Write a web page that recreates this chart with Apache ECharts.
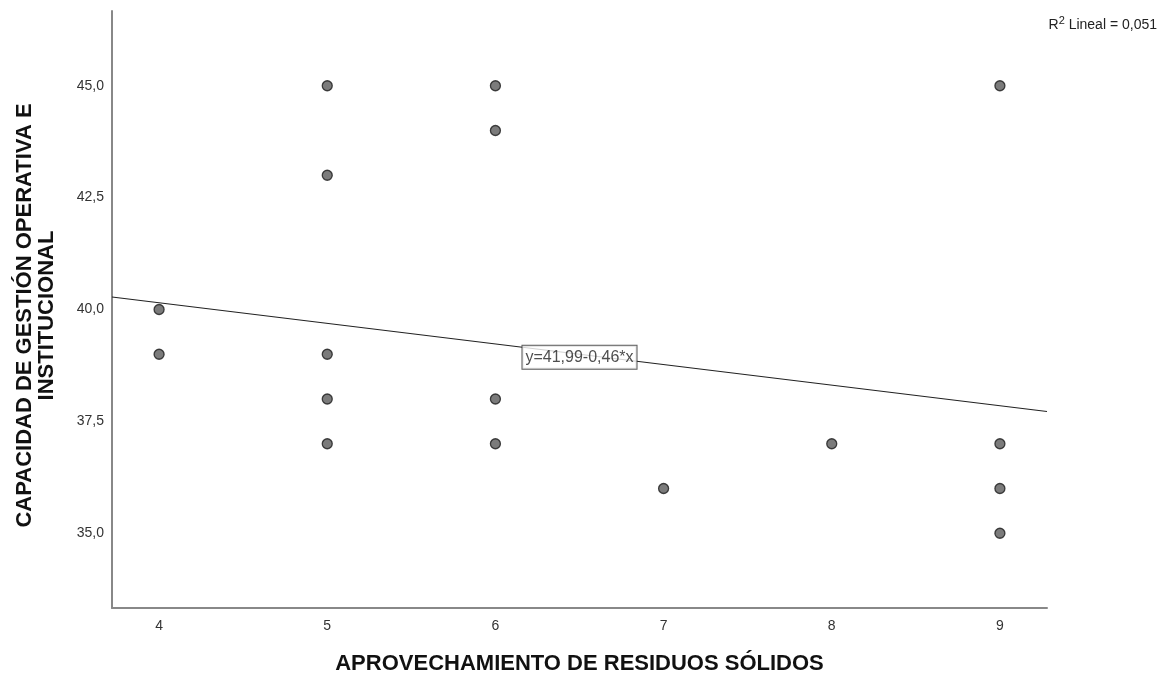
<!DOCTYPE html>
<html>
<head>
<meta charset="utf-8">
<script src="https://cdn.jsdelivr.net/npm/echarts@6/dist/echarts.min.js"></script>
<style>html,body{margin:0;padding:0;background:#fff}#c{width:1169px;height:677px}</style>
</head>
<body>
<div id="c"></div>
<script>
// Data
const xValues = [4, 4, 5, 5, 5, 5, 5, 6, 6, 6, 6, 7, 8, 9, 9, 9, 9];
const yValues = [40, 39, 45, 43, 39, 38, 37, 45, 44, 38, 37, 36, 37, 45, 37, 36, 35];
const xTicks = [4, 5, 6, 7, 8, 9];
const yTicks = [35.0, 37.5, 40.0, 42.5, 45.0];
const fitIntercept = 41.99;
const fitSlope = -0.46;
const fitLabel = 'y=41,99-0,46*x';
const rSquaredText = '0,051';
const xTitle = 'APROVECHAMIENTO DE RESIDUOS SÓLIDOS';
const yTitle = 'CAPACIDAD DE GESTIÓN OPERATIVA E\nINSTITUCIONAL';

const xMin = 3.72, xMax = 9.28, yMin = 33.33, yMax = 46.67;
const fitLine = [[xMin, fitIntercept + fitSlope * xMin], [xMax, fitIntercept + fitSlope * xMax]];
const labelX = 6.5;
const labelPoint = [[labelX, fitIntercept + fitSlope * labelX]];
const points = xValues.map((x, i) => [x, yValues[i]]);

const chart = echarts.init(document.getElementById('c'), null, {renderer: 'canvas'});
const font = '"Liberation Sans", Arial, sans-serif';
chart.setOption({
  animation: false,
  backgroundColor: '#fff',
  grid: {left: 112, right: 122, top: 11, bottom: 69, containLabel: false, outerBoundsMode: 'none'},
  xAxis: {
    type: 'value', min: xMin, max: xMax,
    axisLine: {show: true, onZero: false, lineStyle: {color: '#888', width: 2}},
    axisTick: {show: false},
    splitLine: {show: false},
    axisLabel: {
      show: true, color: '#333', fontFamily: font, fontSize: 14, margin: 11,
      customValues: xTicks, formatter: v => String(v)
    },
    name: xTitle, nameLocation: 'middle', nameGap: 45,
    nameTextStyle: {fontFamily: font, fontSize: 22, fontWeight: 'bold', color: '#111'}
  },
  yAxis: {
    type: 'value', min: yMin, max: yMax,
    axisLine: {show: true, onZero: false, lineStyle: {color: '#888', width: 2}},
    axisTick: {show: false},
    splitLine: {show: false},
    axisLabel: {
      show: true, color: '#333', fontFamily: font, fontSize: 14, margin: 8,
      customValues: yTicks, formatter: v => v.toFixed(1).replace('.', ','),
      padding: [4, 0, 0, 0]
    },
    name: yTitle, nameLocation: 'middle', nameGap: 54, nameRotate: 90,
    nameTextStyle: {fontFamily: font, fontSize: 22, fontWeight: 'bold', color: '#111', lineHeight: 22,
      padding: [0, 12, 0, 0]}
  },
  graphic: [{
    type: 'text', right: 12, top: 15,
    style: {
      text: '{n|R}{s|2}{n| Lineal = ' + rSquaredText + '}',
      rich: {
        n: {fontFamily: font, fontSize: 14, fill: '#222', verticalAlign: 'bottom'},
        s: {fontFamily: font, fontSize: 11, fill: '#222', verticalAlign: 'top', padding: [0, 0, 6, 0]}
      }
    }
  }],
  series: [
    {
      type: 'line', data: fitLine, showSymbol: false, silent: true,
      lineStyle: {color: '#222', width: 1.2}, z: 2
    },
    {
      type: 'scatter', data: points, symbol: 'circle', symbolSize: 10,
      itemStyle: {color: '#5a5a5a', borderColor: '#1a1a1a', borderWidth: 1.3}, z: 3
    },
    {
      type: 'scatter', data: labelPoint, symbolSize: 0, silent: true, z: 4,
      label: {
        show: true, position: 'inside', offset: [0, 3], formatter: fitLabel,
        fontFamily: font, fontSize: 16, color: '#222',
        backgroundColor: '#fff', borderColor: '#333', borderWidth: 1,
        padding: [4, 3, 3, 3]
      }
    }
  ]
});
</script>
</body>
</html>
